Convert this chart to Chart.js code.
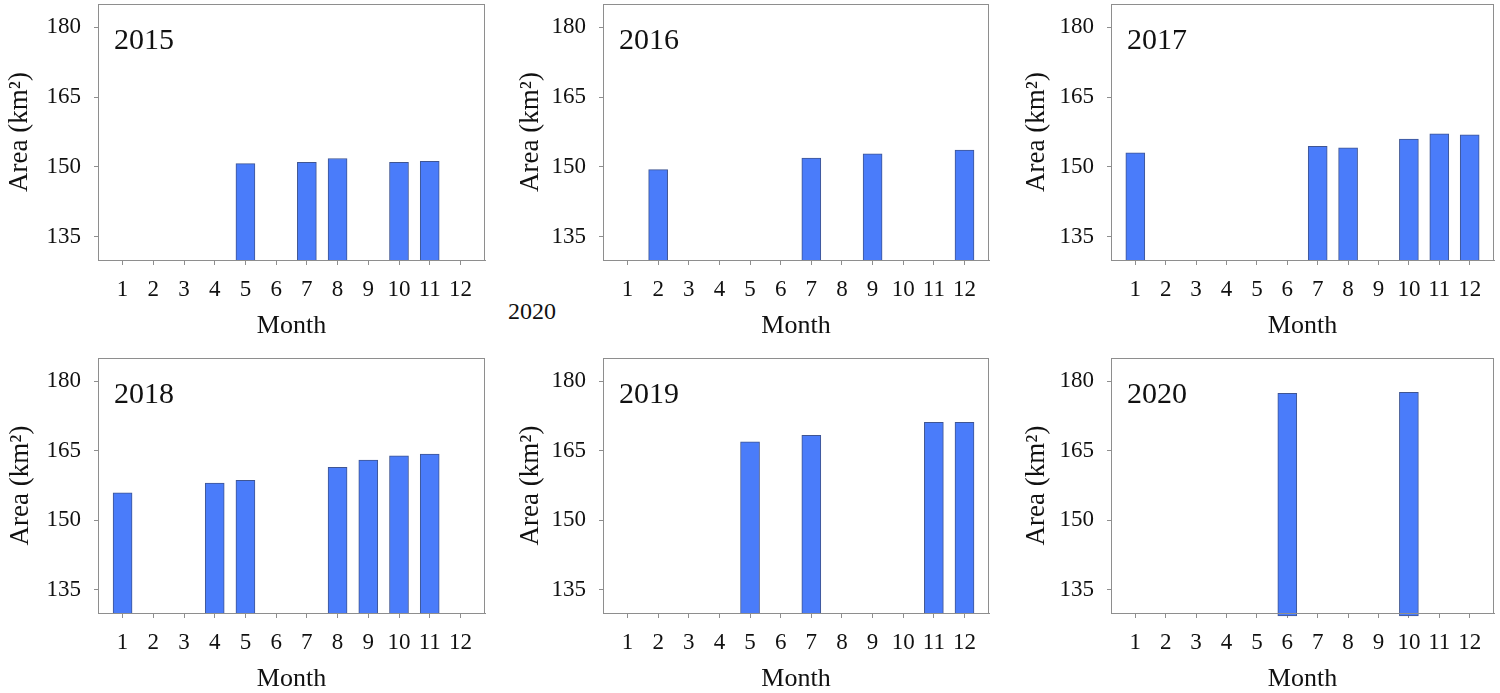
<!DOCTYPE html>
<html>
<head>
<meta charset="utf-8">
<script src="https://cdn.jsdelivr.net/npm/chart.js@4.4.0/dist/chart.umd.min.js"></script>
<style>
  html, body { margin: 0; padding: 0; background: #fff; }
  body { width: 1500px; height: 693px; position: relative; overflow: hidden; }
  canvas { position: absolute; }
  .stray { position: absolute; font-family: "Liberation Serif", "Times New Roman", serif; font-size: 24px; line-height: 24px; color: #111; white-space: nowrap; }
</style>
</head>
<body>
<span class="stray" style="left:508px; top:299px;">2020</span>
<script>
// ---- data ----
const months = [1, 2, 3, 4, 5, 6, 7, 8, 9, 10, 11, 12];
const yTicks = [135, 150, 165, 180];
const years = ['2015', '2016', '2017', '2018', '2019', '2020'];
const area2015 = [null, null, null, null, 150.7, null, 151.0, 151.8, null, 151.0, 151.2, null];
const area2016 = [null, 149.4, null, null, null, null, 151.9, null, 152.8, null, null, 153.6];
const area2017 = [153.0, null, null, null, null, null, 154.4, 154.1, null, 156.0, 157.1, 156.9];
const area2018 = [155.9, null, null, 158.0, 158.6, null, null, 161.4, 163.0, 163.9, 164.3, null];
const area2019 = [null, null, null, null, 166.9, null, 168.3, null, null, null, 171.1, 171.1];
const area2020 = [null, null, null, null, null, 177.4, null, null, null, 177.6, null, null];
const seriesByYear = [area2015, area2016, area2017, area2018, area2019, area2020];

// ---- layout / style ----
const FONT = '"Liberation Serif", "Times New Roman", serif';
const AXIS = '#8e8e8e';
const panels = [
  { left: 0,    top: 0,   plotW: 387, h: 340, titlePad: 6 },
  { left: 505,  top: 0,   plotW: 386, h: 340, titlePad: 12 },
  { left: 1013, top: 0,   plotW: 383, h: 340, titlePad: 10 },
  { left: 0,    top: 354, plotW: 387, h: 339, titlePad: 7 },
  { left: 505,  top: 354, plotW: 386, h: 339, titlePad: 12 },
  { left: 1013, top: 354, plotW: 383, h: 339, titlePad: 10, base: 129.35 }
];
const Y_AXIS_W = 98;
const X_AXIS_H = 80;

Chart.defaults.font.family = FONT;
Chart.defaults.color = '#111';

const boxAndLabel = {
  id: 'boxAndLabel',
  afterDraw(chart, args, opts) {
    const { ctx, chartArea: a } = chart;
    ctx.save();
    ctx.strokeStyle = AXIS;
    ctx.lineWidth = 1;
    ctx.strokeRect(Math.round(a.left) + 0.5, Math.round(a.top) + 0.5,
                   Math.round(a.right - a.left) - 1, Math.round(a.bottom - a.top));
    ctx.fillStyle = '#111';
    ctx.font = '30px ' + FONT;
    ctx.textBaseline = 'alphabetic';
    ctx.textAlign = 'left';
    ctx.fillText(opts.label, a.left + 16, a.top + 45);
    ctx.restore();
  }
};

panels.forEach((p, i) => {
  const cv = document.createElement('canvas');
  const w = Y_AXIS_W + p.plotW + 4;
  cv.width = w; cv.height = p.h;
  cv.style.left = p.left + 'px';
  cv.style.top = p.top + 'px';
  cv.style.width = w + 'px';
  cv.style.height = p.h + 'px';
  document.body.appendChild(cv);

  const vals = seriesByYear[i];
  const pts = [];
  months.forEach((m, k) => { if (vals[k] !== null) pts.push({ x: m, y: vals[k] }); });

  const ds = {
    data: pts,
    backgroundColor: '#4a7cfa',
    borderColor: '#3f5592',
    borderWidth: 1,
    borderSkipped: false,
    barThickness: 19
  };
  if (p.base !== undefined) { ds.base = p.base; ds.clip = false; }

  new Chart(cv, {
    type: 'bar',
    data: { datasets: [ds] },
    plugins: [boxAndLabel],
    options: {
      responsive: false,
      animation: false,
      devicePixelRatio: 1,
      layout: { padding: { top: 4, right: 4, left: 0, bottom: 0 } },
      plugins: {
        legend: { display: false },
        tooltip: { enabled: false },
        boxAndLabel: { label: years[i] }
      },
      scales: {
        x: {
          type: 'linear',
          min: 0.2, max: 12.8,
          offset: false,
          afterBuildTicks: s => { s.ticks = months.map(v => ({ value: v })); },
          afterFit: s => { s.height = X_AXIS_H; s.paddingLeft = 0; s.paddingRight = 0; s.paddingTop = 0; s.paddingBottom = 0; },
          ticks: { autoSkip: false, maxRotation: 0, padding: 11, color: '#111',
                   font: { size: 23, family: FONT } },
          grid: { display: true, drawOnChartArea: false, drawTicks: true, tickLength: 5,
                  color: AXIS, offset: false },
          border: { display: true, color: AXIS, width: 1 },
          title: { display: true, text: 'Month', color: '#111',
                   font: { size: 26, family: FONT, lineHeight: 1 },
                   padding: { top: 0, bottom: 1 } }
        },
        y: {
          min: 130, max: 185,
          afterBuildTicks: s => { s.ticks = yTicks.map(v => ({ value: v })); },
          afterFit: s => { s.width = Y_AXIS_W; s.paddingTop = 0; s.paddingBottom = 0; s.paddingLeft = 0; s.paddingRight = 0; },
          ticks: { padding: 13, color: '#111', font: { size: 23, family: FONT } },
          grid: { display: true, drawOnChartArea: false, drawTicks: true, tickLength: 4,
                  color: AXIS },
          border: { display: true, color: AXIS, width: 1 },
          title: { display: true, text: 'Area (km²)', color: '#111',
                   font: { size: 27, family: FONT, lineHeight: 1 },
                   padding: { top: p.titlePad, bottom: 0 } }
        }
      }
    }
  });
});
</script>
</body>
</html>
